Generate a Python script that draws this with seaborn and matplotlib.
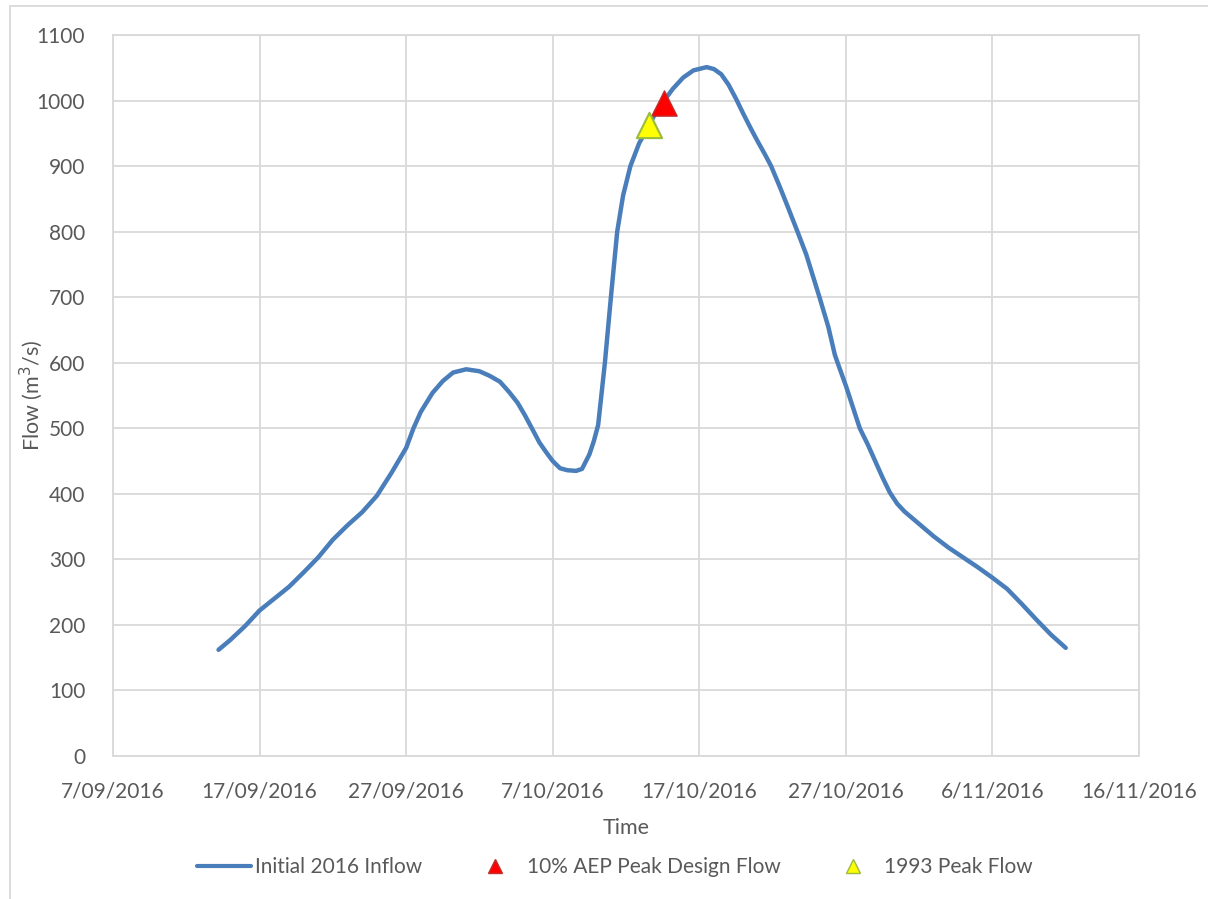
import pandas as pd
import numpy as np
import matplotlib
matplotlib.use("Agg")
import matplotlib.pyplot as plt
from matplotlib.patches import Rectangle
from matplotlib.lines import Line2D
import seaborn as sns

# days after 7/09/2016 and flow
start = pd.Timestamp("2016-09-07")
day_offset = [7.2, 8, 9, 10, 11, 12, 13, 14, 15, 16, 17, 18, 19, 20, 20.5, 21, 21.8,
              22.5, 23.2, 24.1, 25, 25.7, 26.4, 27, 27.6, 28.1, 28.65, 29.1, 29.6, 30, 30.5,
              31, 31.6, 32, 32.5, 32.8, 33.1, 33.56, 33.97, 34.4, 34.8, 35.3, 35.9, 36.6,
              37.1, 37.6, 38.2, 38.9, 39.6, 40.5, 41, 41.5, 42, 42.5, 43, 43.5, 44, 44.5,
              44.9, 45.5, 46, 46.7, 47.3, 48.2, 48.8, 49.25, 49.5, 50, 50.95, 51.5, 52, 52.5,
              53, 53.5, 54, 55, 56, 57, 58, 59, 60, 61, 62, 63, 64, 65]
inflow = [162, 177, 198, 222, 240, 258, 280, 303, 330, 352, 372, 397, 432, 470, 500, 525,
          554, 572, 585, 590, 587, 580, 571, 556, 539, 520, 497, 478, 462, 450, 439, 436,
          435, 438, 460, 480, 505, 600, 700, 800, 855, 900, 935, 963, 985, 1000, 1018,
          1035, 1046, 1051, 1048, 1040, 1024, 1003, 980, 958, 937, 917, 900, 868, 840, 800,
          765, 700, 655, 612, 596, 565, 500, 475, 450, 425, 402, 385, 373, 354, 335, 318,
          303, 288, 272, 255, 232, 208, 185, 165]

aep_day = [37.6]
aep_flow = [997]
peak93_day = [36.6]
peak93_flow = [963]

tick_days = [0, 10, 20, 30, 40, 50, 60, 70]

df = pd.DataFrame({"time": start + pd.to_timedelta(day_offset, unit="D"), "flow": inflow})
aep = pd.DataFrame({"time": start + pd.to_timedelta(aep_day, unit="D"), "flow": aep_flow})
p93 = pd.DataFrame({"time": start + pd.to_timedelta(peak93_day, unit="D"), "flow": peak93_flow})

sns.set_style("white")
plt.rcParams["font.family"] = ["Lato", "DejaVu Sans"]

grey = "#595959"
gridc = "#d9d9d9"

fig = plt.figure(figsize=(12.08, 8.99), dpi=100)
ax = fig.add_axes([113 / 1208, 1 - 756 / 899, (1139 - 113) / 1208, (756 - 35) / 899])

sns.lineplot(data=df, x="time", y="flow", ax=ax, color="#4a7ebb", linewidth=3.2, zorder=3,
             solid_joinstyle="round", solid_capstyle="round")
sns.scatterplot(data=aep, x="time", y="flow", ax=ax, marker="^", s=330, color="#ff0000",
                edgecolor="#c0302e", linewidth=1, zorder=4)
sns.scatterplot(data=p93, x="time", y="flow", ax=ax, marker="^", s=330, color="#ffff00",
                edgecolor="#9bbb3f", linewidth=1.5, zorder=4)

ticks = start + pd.to_timedelta(tick_days, unit="D")
ax.set_xlim(ticks[0], ticks[-1])
ax.set_xticks(ticks)
ax.set_xticklabels([f"{t.day}/{t.month:02d}/{t.year}" for t in ticks])
ax.set_ylim(0, 1100)
ax.set_yticks(range(0, 1101, 100))

ax.grid(True, color=gridc, linewidth=1.3)
for s in ax.spines.values():
    s.set_color(gridc)
    s.set_linewidth(1.3)
ax.tick_params(axis="both", length=0, labelsize=15, colors=grey)
ax.tick_params(axis="y", pad=20)
ax.tick_params(axis="x", pad=18)

ax.set_xlabel("Time", fontsize=15.5, color=grey, labelpad=12)
ax.set_ylabel("Flow (m$^3$/s)", fontsize=15.5, color=grey)
ax.yaxis.set_label_coords(-0.066, 0.5)

handles = [
    Line2D([], [], color="#4a7ebb", linewidth=3),
    Line2D([], [], color="#ff0000", marker="^", markersize=10, linestyle="none",
           markeredgecolor="#c0302e"),
    Line2D([], [], color="#ffff00", marker="^", markersize=10, linestyle="none",
           markeredgecolor="#9bbb3f"),
]
labels = ["Initial 2016 Inflow", "10% AEP Peak Design Flow", "1993 Peak Flow"]
fig.legend(handles, labels, loc="center", bbox_to_anchor=(615 / 1208, 1 - 867 / 899),
           ncol=3, frameon=False, fontsize=15, labelcolor=grey, handlelength=2.6,
           handletextpad=0.2, columnspacing=2.2)

# outer chart-area border
fig.patches.append(Rectangle((10 / 1208, -0.05), 1.2, 1 - 6 / 899 + 0.05,
                             transform=fig.transFigure, fill=False,
                             edgecolor=gridc, linewidth=1.3))

fig.savefig("out.png", dpi=100)
